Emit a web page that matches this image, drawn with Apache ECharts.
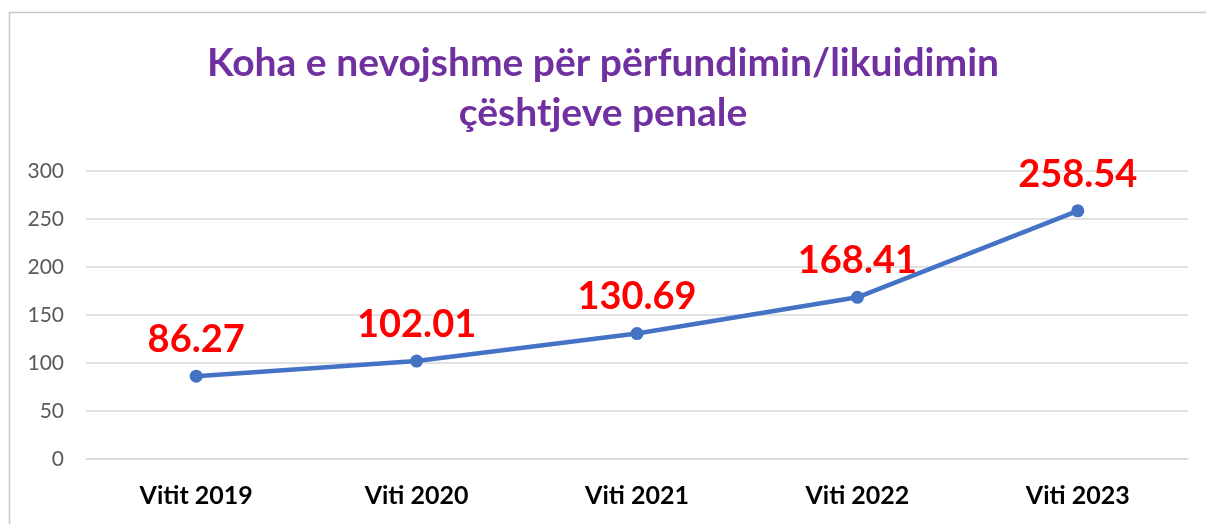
<!DOCTYPE html>
<html><head><meta charset="utf-8">
<script src="https://cdn.jsdelivr.net/npm/echarts@6/dist/echarts.min.js"></script>
<style>html,body{margin:0;padding:0;background:#fff}#c{width:1206px;height:524px}</style>
</head><body><div id="c"></div>
<script>
const categories = ["Vitit 2019", "Viti 2020", "Viti 2021", "Viti 2022", "Viti 2023"];
const values = [86.27, 102.01, 130.69, 168.41, 258.54];
const titleText = "Koha e nevojshme për përfundimin/likuidimin\nçështjeve penale";

const chart = echarts.init(document.getElementById('c'));
chart.setOption({
  animation: false,
  backgroundColor: '#fff',
  graphic: [{
    type: 'rect', shape: {x: 9.5, y: 12.5, width: 1220, height: 540},
    style: {fill: 'none', stroke: '#c8c8c8', lineWidth: 1.5}
  }],
  title: {
    text: titleText, left: 'center', top: 33,
    textStyle: {fontFamily: 'Lato, sans-serif', fontWeight: 'bold', fontSize: 39, color: '#7030A0', lineHeight: 50}
  },
  grid: {left: 86, right: 18, top: 171, bottom: 65, containLabel: false},
  xAxis: {
    type: 'category', data: categories,
    axisLine: {show: true, lineStyle: {color: '#d9d9d9', width: 1.5}},
    axisTick: {show: false},
    axisLabel: {color: '#000', fontWeight: 'bold', fontSize: 25, margin: 24, fontFamily: 'Lato, sans-serif'}
  },
  yAxis: {
    type: 'value', min: 0, max: 300, interval: 50,
    axisLine: {show: false}, axisTick: {show: false},
    splitLine: {lineStyle: {color: '#d9d9d9', width: 1.5}},
    axisLabel: {color: '#595959', fontSize: 21, margin: 22, fontFamily: 'Lato, sans-serif'}
  },
  series: [{
    type: 'line', data: values,
    lineStyle: {color: '#4472C4', width: 4.5},
    itemStyle: {color: '#4472C4'},
    symbol: 'circle', symbolSize: 13,
    label: {show: true, position: 'top', distance: 11, color: '#FF0000', fontWeight: 'bold', fontSize: 38,
      fontFamily: 'Lato, sans-serif', formatter: p => p.value.toFixed(2)}
  }]
});
</script></body></html>
